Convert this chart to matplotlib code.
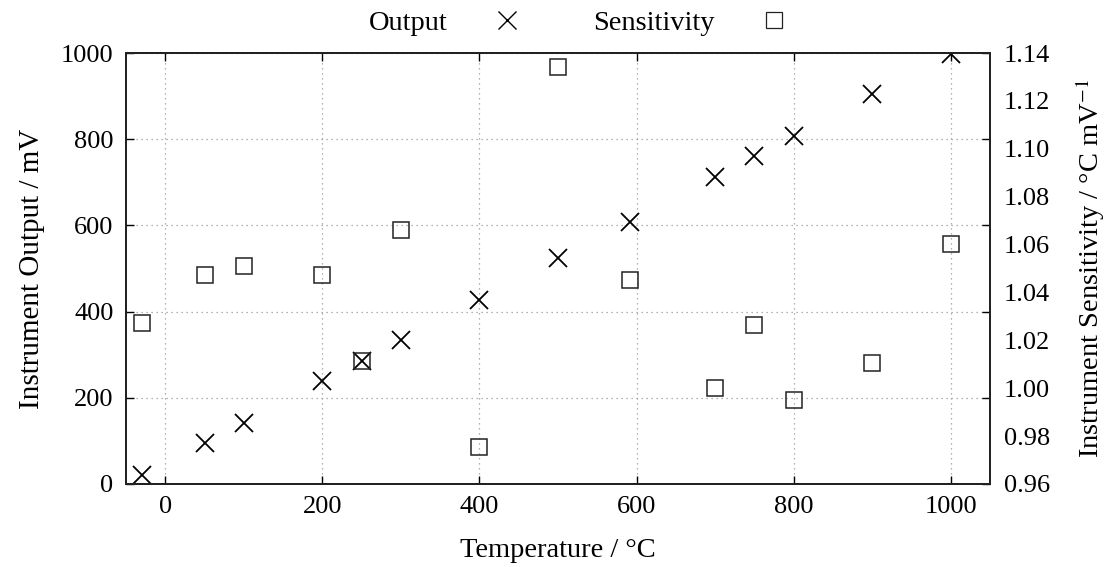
import matplotlib.pyplot as plt
from matplotlib.lines import Line2D

plt.rcParams['font.family'] = ['Liberation Serif', 'DejaVu Serif']
plt.rcParams['mathtext.fontset'] = 'stix'
plt.rcParams['font.size'] = 19

# readings
temp_out = [-30, 50, 100, 200, 250, 300, 400, 500, 592, 700, 750, 800, 900, 1000]
output_mv = [20, 95, 141, 239, 285, 334, 427, 524, 609, 713, 762, 808, 904, 998]

temp_sens = [-30, 50, 100, 200, 250, 300, 400, 500, 592, 700, 750, 800, 900, 1000]
sensitivity = [1.0274, 1.0473, 1.0512, 1.0473, 1.0112, 1.0661, 0.9753, 1.1343,
               1.0452, 1.0002, 1.0263, 0.9952, 1.0104, 1.0602]

xticks = [0, 200, 400, 600, 800, 1000]
yticks = [0, 200, 400, 600, 800, 1000]
y2ticks = [0.96, 0.98, 1.00, 1.02, 1.04, 1.06, 1.08, 1.10, 1.12, 1.14]

fig = plt.figure(figsize=(11.07, 5.67), dpi=100)
ax = fig.add_axes([0.1138, 0.1464, 0.7805, 0.7601])
ax2 = ax.twinx()

ax.plot(temp_out, output_mv, ls='none', marker='x', ms=13, mew=1.3, color='black')
ax2.plot(temp_sens, sensitivity, ls='none', marker='s', ms=12, mew=1.1,
         mfc='none', mec='#222222')

ax.set_xlim(-50, 1050)
ax.set_ylim(0, 1000)
ax2.set_ylim(0.96, 1.14)

ax.set_xticks(xticks)
ax.set_yticks(yticks)
ax2.set_yticks(y2ticks)
ax2.set_yticklabels(['%.2f' % v for v in y2ticks])

ax.grid(True, ls=(0, (1, 3)), color='#999999', lw=0.9)
ax.tick_params(direction='in', length=6, width=1, top=True, right=True,
               labelright=False, pad=9)
ax2.tick_params(length=0, pad=10)

for sp in list(ax.spines.values()) + list(ax2.spines.values()):
    sp.set_linewidth(1.4)
    sp.set_color('#222222')

ax.set_xlabel('Temperature / °C', fontsize=20.5)
ax.set_ylabel('Instrument Output / mV', fontsize=21)
ax2.set_ylabel('Instrument Sensitivity / °C mV$^{-1}$', fontsize=20.5)
ax.xaxis.set_label_coords(0.5, -0.125)
ax.yaxis.set_label_coords(-0.094, 0.5)
ax2.yaxis.set_label_coords(1.097, 0.5)

handles = [Line2D([], [], ls='none', marker='x', ms=13, mew=1.0, color='black'),
           Line2D([], [], ls='none', marker='s', ms=12, mew=0.9, mfc='none', mec='#222222')]
ax.legend(handles, ['Output', 'Sensitivity'], ncol=2, frameon=False, markerfirst=False,
          loc='lower center', bbox_to_anchor=(0.532, 1.0), columnspacing=2.0,
          handletextpad=1.1, borderaxespad=0.2, fontsize=20.5)

fig.savefig('out.png', dpi=100)
